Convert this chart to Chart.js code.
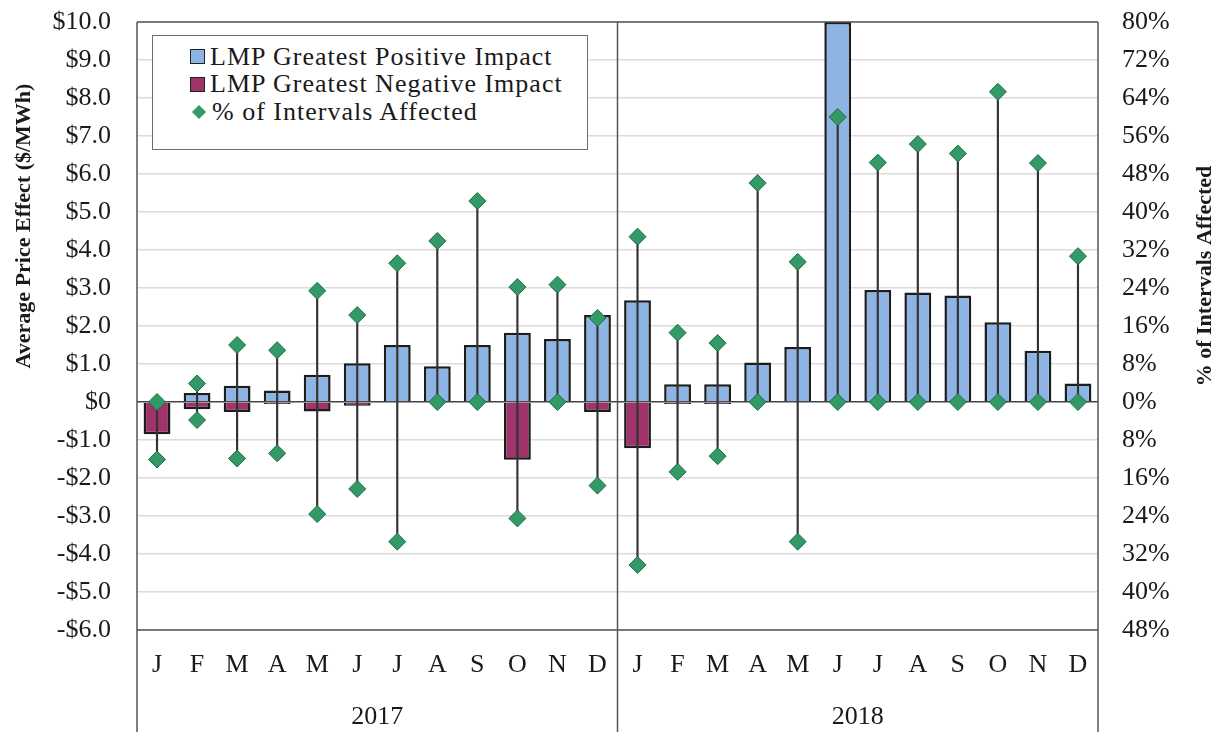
<!DOCTYPE html>
<html>
<head>
<meta charset="utf-8">
<script src="https://cdn.jsdelivr.net/npm/chart.js@4.4.0/dist/chart.umd.min.js"></script>
<style>
  body { margin: 0; background: #fff; }
  #wrap { position: relative; width: 1223px; height: 732px; }
  #legend {
    position: absolute; left: 152px; top: 35px; width: 436px; height: 115px;
    border: 1.5px solid #6e6e6e; background: #fff; box-sizing: border-box;
    font-family: "Liberation Serif", "Times New Roman", serif; font-size: 26px; color: #1a1a1a;
    padding-top: 7px;
  }
  .item { display: flex; align-items: center; height: 27.5px; padding-left: 37px; letter-spacing: 1px; }
  .sw { width: 13px; height: 13px; border: 1.5px solid #222; margin-right: 5px; flex: none; }
  .dia { width: 10px; height: 10px; background: #339966; transform: rotate(45deg); margin: 0 8px 0 4px; flex: none; }
</style>
</head>
<body>
<div id="wrap">
  <canvas id="myChart" width="1223" height="732"></canvas>
  <div id="legend">
    <div class="item"><span class="sw" style="background:#8eb4e3"></span>LMP Greatest Positive Impact</div>
    <div class="item"><span class="sw" style="background:#a0346a"></span>LMP Greatest Negative Impact</div>
    <div class="item"><span class="dia"></span>% of Intervals Affected</div>
  </div>
</div>
<script>
const months = ['J', 'F', 'M', 'A', 'M', 'J', 'J', 'A', 'S', 'O', 'N', 'D'];
const years = ['2017', '2018'];
const labels = months.concat(months);

// $/MWh
const positiveImpact = [0, 0.24, 0.43, 0.30, 0.72, 1.02, 1.50, 0.94, 1.50, 1.82, 1.66, 2.29,
                        2.68, 0.47, 0.47, 1.04, 1.45, 10.0, 2.95, 2.88, 2.80, 2.10, 1.35, 0.49];
const negativeImpact = [-0.85, -0.19, -0.26, -0.05, -0.25, -0.10, -0.02, 0, 0, -1.52, 0, -0.26,
                        -1.22, -0.05, -0.05, 0, 0, 0, 0, 0, 0, 0, 0, 0];
// % of intervals affected (up = positive impact, down = negative impact)
const pctPositive = [0, 3.9, 12.0, 10.9, 23.4, 18.3, 29.2, 33.9, 42.3, 24.2, 24.7, 17.7,
                     34.8, 14.6, 12.4, 46.1, 29.5, 60.0, 50.4, 54.3, 52.3, 65.3, 50.3, 30.7];
const pctNegative = [12.1, 3.8, 11.9, 10.8, 23.6, 18.3, 29.4, 0, 0, 24.5, 0, 17.6,
                     34.3, 14.7, 11.4, 0, 29.4, 0, 0, 0, 0, 0, 0, 0];

const font = "'Liberation Serif', 'Times New Roman', serif";
const textColor = '#1a1a1a';
const lineColor = '#555555';
const clear = 'rgba(0,0,0,0)';

// frame, year separators, year labels and axis titles
const frame = {
  id: 'frame',
  afterDraw(chart) {
    const c = chart.ctx, a = chart.chartArea, x = chart.scales.x;
    const mid = (x.getPixelForValue(11) + x.getPixelForValue(12)) / 2;
    c.save();
    c.strokeStyle = lineColor;
    c.lineWidth = 1.5;
    c.beginPath();
    [a.left, mid, a.right].forEach(px => { c.moveTo(px, a.top); c.lineTo(px, chart.height); });
    c.moveTo(a.left, a.top); c.lineTo(a.right, a.top);
    c.moveTo(a.left, a.bottom); c.lineTo(a.right, a.bottom);
    c.stroke();

    c.fillStyle = textColor;
    c.font = '26px ' + font;
    c.textAlign = 'center';
    c.textBaseline = 'middle';
    c.fillText(years[0], (a.left + mid) / 2, 717);
    c.fillText(years[1], (mid + a.right) / 2, 717);

    c.font = 'bold 22px ' + font;
    c.translate(24, 226);
    c.rotate(-Math.PI / 2);
    c.fillText('Average Price Effect ($/MWh)', 0, 0);
    c.restore();

    c.save();
    c.fillStyle = textColor;
    c.font = 'bold 22px ' + font;
    c.textAlign = 'center';
    c.textBaseline = 'middle';
    c.translate(1205, 276);
    c.rotate(-Math.PI / 2);
    c.fillText('% of Intervals Affected', 0, 0);
    c.restore();
  }
};

const diamond = {
  type: 'line', yAxisID: 'y2', showLine: false, order: 1,
  pointStyle: 'rectRot', pointRadius: 8.5,
  pointBackgroundColor: '#339966', pointBorderColor: '#1f6e47', pointBorderWidth: 1
};

const config = {
  data: {
    labels: labels,
    datasets: [
      { type: 'bar', label: 'LMP Greatest Positive Impact', data: positiveImpact, yAxisID: 'y', order: 3,
        backgroundColor: '#8eb4e3', borderColor: '#1c1c1c', borderWidth: 2.5,
        grouped: false, barPercentage: 0.67, categoryPercentage: 1 },
      { type: 'bar', label: 'LMP Greatest Negative Impact', data: negativeImpact, yAxisID: 'y', order: 3,
        backgroundColor: '#a0346a', borderColor: '#1c1c1c', borderWidth: 2.5,
        grouped: false, barPercentage: 0.67, categoryPercentage: 1 },
      { type: 'bar', label: 'range', data: pctPositive.map((p, i) => [-pctNegative[i], p]), yAxisID: 'y2', order: 2,
        backgroundColor: '#333333', grouped: false, barThickness: 1.5 },
      Object.assign({ label: '% of Intervals Affected', data: pctPositive }, diamond),
      Object.assign({ label: '% negative', data: pctNegative.map(v => -v) }, diamond)
    ]
  },
  options: {
    responsive: false,
    animation: false,
    layout: { padding: { top: 22, left: 0, right: 0, bottom: 0 } },
    plugins: { legend: { display: false }, tooltip: { enabled: false } },
    scales: {
      x: {
        grid: { display: false, drawTicks: false },
        border: { display: false },
        ticks: { font: { family: font, size: 26 }, color: textColor, padding: 20, autoSkip: false, maxRotation: 0 },
        afterFit: s => { s.height = 102; }
      },
      y: {
        position: 'left', min: -6, max: 10,
        border: { display: false },
        grid: { drawTicks: true, tickLength: 26, tickColor: clear, lineWidth: 1.5,
                color: c => c.tick.value === 0 ? '#444444' : '#dcdcdc' },
        ticks: {
          stepSize: 1, padding: 0, color: textColor, font: { family: font, size: 26 },
          callback: v => v === 0 ? '$0' : (v < 0 ? '-$' : '$') + Math.abs(v).toFixed(1)
        },
        afterFit: s => { s.width = 137; }
      },
      y2: {
        position: 'right', min: -48, max: 80,
        border: { display: false },
        grid: { drawOnChartArea: false, drawTicks: true, tickLength: 24, tickColor: clear, color: clear },
        ticks: {
          stepSize: 8, padding: 0, color: textColor, font: { family: font, size: 26 },
          callback: v => Math.abs(v) + '%'
        },
        afterFit: s => { s.width = 125; }
      }
    }
  },
  plugins: [frame]
};

const myChart = new Chart(document.getElementById('myChart'), config);
</script>
</body>
</html>
